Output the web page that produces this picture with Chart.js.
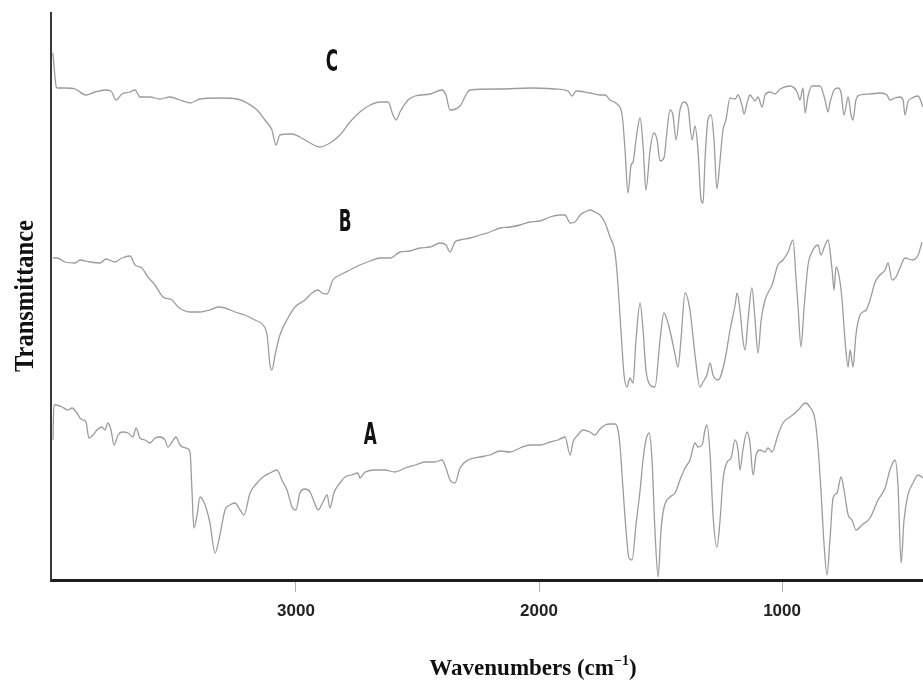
<!DOCTYPE html>
<html>
<head>
<meta charset="utf-8">
<script src="https://cdn.jsdelivr.net/npm/chart.js@4.4.1/dist/chart.umd.min.js"></script>
<style>
  html, body { margin: 0; padding: 0; background: #fff; }
  #wrap { width: 923px; height: 681px; }
</style>
</head>
<body>
<div id="wrap"><canvas id="irChart" width="923" height="681"></canvas></div>
<script>
// wavenumbers (cm-1) and transmittance (arbitrary, offset)
const wnC = [4000,3988,3983,3950,3909,3864,3827,3786,3761,3741,3716,3683,3662,3642,3601,3560,3518,3477,3436,3395,3313,3243,3202,3160,3128,3099,3082,3066,3016,2984,2942,2901,2860,2819,2778,2737,2695,2654,2621,2601,2588,2572,2539,2510,2448,2399,2383,2366,2325,2296,2284,2160,2037,1934,1881,1864,1848,1790,1749,1728,1708,1679,1658,1646,1634,1621,1613,1601,1584,1572,1560,1543,1527,1514,1502,1486,1473,1461,1449,1436,1420,1403,1387,1370,1358,1346,1333,1325,1317,1305,1292,1280,1268,1255,1243,1231,1214,1193,1181,1165,1156,1144,1132,1111,1099,1082,1070,1049,1029,1008,967,938,926,914,905,893,877,844,823,811,803,786,770,757,745,728,716,708,696,679,638,597,568,556,535,515,502,494,482,465,440,420];
const tC = [105.4,99,98.4,98.4,98.2,97,97.6,98,97.8,96,97.2,97.6,98,96.6,96.6,96.2,96.6,96,95.4,96.2,96.4,96.2,95.4,94,92,90,87,89,89.2,88.6,87.4,86.6,87.4,89,91.6,93.6,95,95.6,95.6,93,92,93.6,96,96.8,97.2,98,97,94,94.8,97.4,98,98.2,98.4,98.2,97.8,96.8,97.8,97.4,97,97,96,95.2,93,86,77.4,83,83.6,88,92.4,87,78,86,89.4,88,83.8,84.4,90,94,93,88,94,95.6,94.6,88,90.8,86,76,75.4,84,92,93,88,78.2,84,90,92,96.4,96.2,97,95,93.2,95.4,97,95.8,96.6,94.6,97,97.6,97.2,98.2,98.8,97.6,96,98.4,93.4,96.8,98.8,98.8,96,93.6,95.4,98,98.4,97.4,93,96.6,93,92,96,97,97.2,97.4,97,96,96.4,96.6,96,93,95.6,96.4,96.8,94.6];

const wnB = [4000,3983,3950,3909,3889,3848,3806,3782,3745,3716,3683,3662,3634,3609,3580,3547,3510,3485,3436,3395,3354,3321,3292,3251,3210,3169,3136,3119,3107,3099,3086,3066,3033,3004,2963,2934,2909,2893,2872,2848,2819,2778,2737,2695,2654,2613,2572,2531,2490,2448,2407,2383,2366,2346,2325,2284,2243,2202,2160,2119,2078,2037,1996,1955,1914,1893,1872,1852,1831,1811,1790,1770,1749,1728,1708,1687,1675,1663,1650,1638,1626,1613,1601,1584,1572,1560,1543,1523,1502,1486,1473,1457,1440,1428,1416,1399,1379,1358,1338,1325,1309,1296,1284,1263,1235,1214,1193,1185,1173,1161,1152,1140,1124,1111,1099,1086,1070,1041,1017,996,975,955,942,934,922,910,893,877,852,840,823,811,794,786,778,766,753,741,728,720,708,696,679,654,638,617,597,576,564,547,531,515,494,465,440,424];
const tB = [64.4,64.4,63.6,63.4,64,63.6,63.4,64.2,63.6,64.4,64.8,63,62.4,60.6,59,56.6,56,54.6,53.6,53.6,54,54.6,54.4,53.6,53,52,51,49,43,42,45,49,52.4,54.6,56,57.4,58,57.4,57.2,60,61,62,63,63.8,64.4,64.4,65.6,65.8,66.4,66.6,67.4,67,65.6,67.6,68,68.4,69,69.6,70.4,70.6,71,71.6,71.8,72.6,73,73,71.4,71.6,73,73.6,74,73.6,73,71.4,68.6,65.4,59,50,41,38.6,40.4,39.4,48,55.4,50,42,39,38.6,48,53.4,52,49,45,42.6,48,57.4,54,45,38.6,39.6,41,43.4,41,40,44,50,55,57.4,54,48,46,52,58.4,52,45.4,52,56,59,63,64,65.6,68,60,54.6,46.6,54,63,65.6,67,65,67,68,62,58,62.6,61,56,48,42.6,46,42.6,49,53,54,56,59.6,61,62,63.4,60,60.6,62.4,64.4,64,65,67.6];

const wnA = [4000,3996,3988,3963,3938,3922,3901,3889,3876,3864,3852,3835,3819,3798,3786,3774,3761,3749,3732,3716,3691,3671,3658,3642,3621,3601,3580,3560,3539,3527,3510,3494,3477,3453,3436,3428,3420,3407,3395,3374,3354,3333,3313,3292,3272,3251,3230,3214,3189,3160,3136,3107,3078,3058,3037,3016,3000,2984,2963,2942,2922,2909,2889,2872,2860,2844,2819,2798,2770,2745,2737,2720,2675,2634,2593,2551,2510,2469,2428,2399,2383,2366,2346,2325,2292,2243,2202,2160,2119,2078,2037,1996,1955,1922,1893,1872,1860,1840,1819,1790,1770,1749,1728,1708,1687,1675,1667,1654,1642,1630,1617,1601,1584,1572,1560,1547,1535,1523,1510,1498,1486,1461,1440,1420,1399,1379,1358,1346,1329,1317,1309,1296,1284,1268,1255,1243,1226,1210,1193,1181,1173,1161,1144,1132,1119,1107,1091,1070,1058,1041,1017,996,967,947,926,905,885,864,852,840,827,815,803,790,774,757,745,728,712,696,671,638,605,576,556,535,523,510,498,482,461,440,420];
const tA = [28,35,35,34.6,34,34.4,33.4,32.4,32,31.6,28.4,29,30,30.6,30,31.4,30,27,29,29.6,29.4,28.6,30.4,28.4,28,27.4,28.4,28.6,28,26.6,27.6,28.6,27,26.4,25.6,18,10.4,13,16.6,15,11.4,5.4,9,14,15,15.4,14,13,17.4,19.4,20.6,21.4,22,20,18,14.6,14,17.4,18.2,17.6,15.2,14,15.6,17,14.4,17.4,19.4,20.6,21,21.4,20.4,21.4,22,22,21.6,22.4,23,23.6,23.6,24,22.4,20,19.4,22.4,24,24.6,25,25.8,25.6,26.4,27,27,27.6,28,28.6,25,27.6,29,30,29.6,29,30.2,31,31.2,31.2,30,27,18,10,4.4,4,11,18,24,28,29.4,24,10,0.6,10,14.4,16.6,17.4,20,22.4,24,27.4,26.6,27,30,31,25,13,6.6,12,20,23.6,24.4,28,26,22,26,29.6,27.4,21,25,26,25.6,26.4,25.6,29,31.4,32.6,33.4,34.4,35.4,34.6,32,26.6,18,7,1,8,16.4,17.4,20.6,18,13,12,10,11,12.4,16,18.4,22,24,19,3.4,12,17,19.4,21,20.4];

const seriesNames = ['C', 'B', 'A'];
const xTicks = [3000, 2000, 1000];
// where the C / B / A tags sit (wavenumber, transmittance)
const tagWn = [2852, 2798, 2695];
const tagT = [103.4, 71.4, 28.8];

function pts(xs, ys) {
  return xs.map(function (x, i) { return { x: x, y: ys[i] }; });
}

const lineStyle = {
  borderColor: '#9c9c9c',
  borderWidth: 1.3,
  pointRadius: 0,
  fill: false,
  cubicInterpolationMode: 'monotone'
};

// tags and axis titles, drawn on top
const textPlugin = {
  id: 'irText',
  afterDraw(chart) {
    const ctx = chart.ctx;
    const xs = chart.scales.x, ys = chart.scales.y;
    ctx.save();
    ctx.fillStyle = '#111';
    ctx.textAlign = 'center';
    ctx.textBaseline = 'middle';
    ctx.font = 'bold 30px "DejaVu Sans Condensed", "DejaVu Sans"';
    seriesNames.forEach(function (name, i) {
      ctx.save();
      ctx.translate(xs.getPixelForValue(tagWn[i]), ys.getPixelForValue(tagT[i]));
      ctx.scale(0.62, 1);
      ctx.fillText(name, 0, 0);
      ctx.restore();
    });
    ctx.restore();

    // y title
    ctx.save();
    ctx.fillStyle = '#111';
    ctx.font = 'bold 28px "Liberation Serif", serif';
    ctx.textAlign = 'center';
    ctx.textBaseline = 'alphabetic';
    ctx.translate(33, 296);
    ctx.rotate(-Math.PI / 2);
    const w = ctx.measureText('Transmittance').width;
    ctx.scale(152 / w, 1);
    ctx.fillText('Transmittance', 0, 0);
    ctx.restore();

    // x title with superscript
    ctx.save();
    ctx.fillStyle = '#111';
    ctx.textBaseline = 'alphabetic';
    ctx.textAlign = 'left';
    const mainFont = 'bold 23px "Liberation Serif", serif';
    const supFont = 'bold 14px "Liberation Serif", serif';
    ctx.font = mainFont;
    const w1 = ctx.measureText('Wavenumbers (cm').width;
    const w3 = ctx.measureText(')').width;
    ctx.font = supFont;
    const w2 = ctx.measureText('\u22121').width;
    let x0 = 533 - (w1 + w2 + w3) / 2;
    const base = 675;
    ctx.font = mainFont;
    ctx.fillText('Wavenumbers (cm', x0, base);
    ctx.font = supFont;
    ctx.fillText('\u22121', x0 + w1, base - 10);
    ctx.font = mainFont;
    ctx.fillText(')', x0 + w1 + w2, base);
    ctx.restore();
  }
};

const ctx = document.getElementById('irChart').getContext('2d');
const irChart = new Chart(ctx, {
  type: 'line',
  data: {
    datasets: [
      Object.assign({ label: 'C', data: pts(wnC, tC) }, lineStyle),
      Object.assign({ label: 'B', data: pts(wnB, tB) }, lineStyle),
      Object.assign({ label: 'A', data: pts(wnA, tA) }, lineStyle)
    ]
  },
  options: {
    responsive: false,
    animation: false,
    layout: { padding: { top: 13, right: 0, left: 0, bottom: 0 } },
    plugins: { legend: { display: false }, tooltip: { enabled: false } },
    scales: {
      x: {
        type: 'linear',
        reverse: true,
        min: 420,
        max: 4008,
        afterBuildTicks(scale) {
          scale.ticks = xTicks.map(function (v) { return { value: v }; });
        },
        afterFit(scale) { scale.height = 101; },
        grid: { drawOnChartArea: false, drawTicks: true, tickLength: 12, color: '#b0b0b0', lineWidth: 1 },
        border: { display: true, color: '#1e1e1e', width: 3 },
        ticks: {
          autoSkip: false,
          maxRotation: 0,
          padding: 9,
          color: '#222',
          font: { family: 'Liberation Sans', weight: 'bold', size: 17 },
          callback: function (v) { return String(v); }
        }
      },
      y: {
        min: 0,
        max: 113.4,
        afterFit(scale) { scale.width = 51; },
        grid: { display: false, drawTicks: false },
        border: { display: true, color: '#3a3a3a', width: 2 },
        ticks: { display: false }
      }
    }
  },
  plugins: [textPlugin]
});
</script>
</body>
</html>
